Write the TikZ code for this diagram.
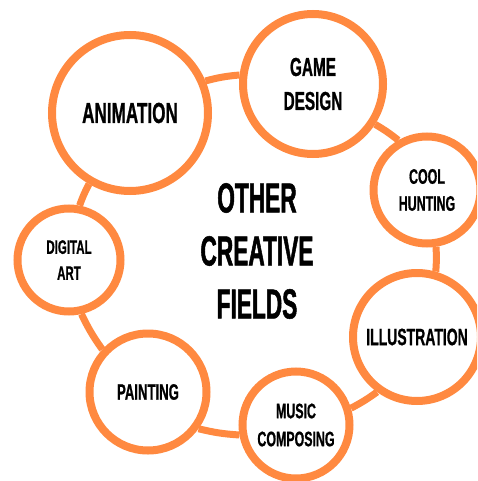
\documentclass[tikz,border=0pt]{standalone}
\usepackage{fontspec}
\usepackage{xcolor}
\newfontfamily\bubblefont{Liberation Sans Bold}[FakeStretch=0.59, FakeBold=0.8]
\newfontfamily\hubfont{Liberation Sans Bold}[FakeStretch=0.54, FakeBold=1.2]
\definecolor{ringorange}{RGB}{255,137,64}

\begin{document}
\begin{tikzpicture}[x=1pt, y=-1pt,
		bubble/.style={circle, draw=ringorange, line width=8pt, fill=white, inner sep=0pt, align=center, text=black},
		link/.style={draw=ringorange, line width=7pt}]
				\clip (0,0) rectangle (477,481);
				\node[bubble, minimum size=156pt, font=\bubblefont\fontsize{29}{35}\selectfont] at (130,113) (anim) {ANIMATION};
				\node[bubble, minimum size=140pt, font=\bubblefont\fontsize{26}{34}\selectfont] at (313,84) (game) {GAME\\DESIGN};
				\node[bubble, minimum size=107pt, font=\bubblefont\fontsize{21}{27}\selectfont] at (427,190) (cool) {COOL\\HUNTING};
				\node[bubble, minimum size=128pt, font=\bubblefont\fontsize{23.7}{28}\selectfont] at (417,337) (illus) {ILLUSTRATION};
				\node[bubble, minimum size=107pt, font=\bubblefont\fontsize{21}{28}\selectfont] at (296,425) (music) {MUSIC\\COMPOSING};
				\node[bubble, minimum size=117pt, font=\bubblefont\fontsize{22.3}{28}\selectfont] at (148,392) (paint) {PAINTING};
				\node[bubble, minimum size=103pt, font=\bubblefont\fontsize{19.5}{26}\selectfont] at (69,260) (digital) {DIGITAL\\ART};
				\node[align=center, font=\hubfont\fontsize{42}{53}\selectfont] at (257,251) (hub) {OTHER\\CREATIVE\\FIELDS};
				
				\draw[link] (anim.23) to[bend left=5] (game.173);
				\draw[link] (game.-33) to[bend left=4] (cool.120);
				\draw[link] (cool.-81) to[bend left=4] (illus.74);
				\draw[link] (illus.234) to[bend left=4] (music.17);
				\draw[link] (music.190) to[bend left=5] (paint.-36);
				\draw[link] (paint.137) to[bend left=5] (digital.-77);
				\draw[link] (digital.79) to[bend left=4] (anim.240);
			\end{tikzpicture}
\end{document}
